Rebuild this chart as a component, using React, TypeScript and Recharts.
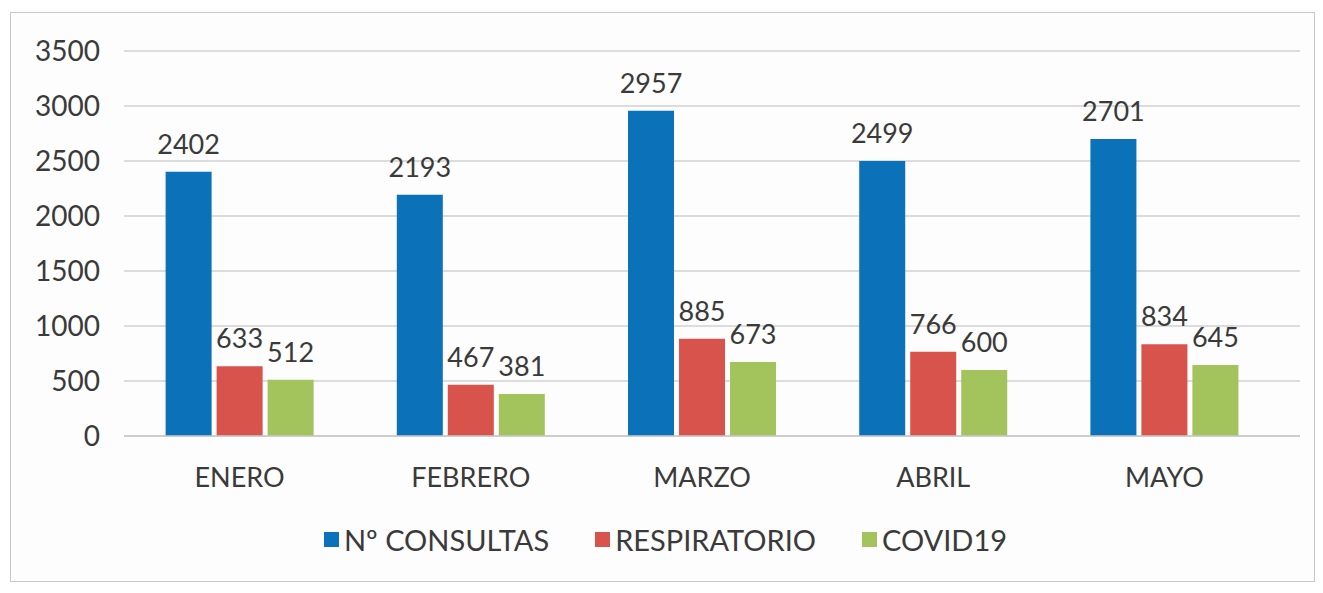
import { Bar, BarChart, CartesianGrid, LabelList, Legend, XAxis, YAxis } from "recharts";

const months = ["ENERO", "FEBRERO", "MARZO", "ABRIL", "MAYO"];
const consultas = [2402, 2193, 2957, 2499, 2701];
const respiratorio = [633, 467, 885, 766, 834];
const covid = [512, 381, 673, 600, 645];
const yTicks = [0, 500, 1000, 1500, 2000, 2500, 3000, 3500];

const series = [
  { key: "consultas", name: "Nº CONSULTAS", color: "#0b72ba" },
  { key: "respiratorio", name: "RESPIRATORIO", color: "#d9534d" },
  { key: "covid", name: "COVID19", color: "#a3c45c" },
];

const data = months.map((m, i) => ({
  month: m,
  consultas: consultas[i],
  respiratorio: respiratorio[i],
  covid: covid[i],
}));

const font = "Lato, 'Noto Sans', sans-serif";
const textColor = "#3a3a3a";

function LegendContent() {
  return (
    <div style={{ display: "flex", justifyContent: "center", gap: 46, fontFamily: font, fontSize: 29, color: textColor, paddingLeft: 20 }}>
      {series.map((s) => (
        <div key={s.key} style={{ display: "flex", alignItems: "center" }}>
          <span style={{ width: 15, height: 15, background: s.color, marginRight: 5, display: "inline-block" }} />
          <span>{s.name}</span>
        </div>
      ))}
    </div>
  );
}

export default function App() {
  return (
    <div
      style={{
        width: 1305,
        height: 570,
        border: "1px solid #c8c8c8",
        background: "#fdfdfd",
        boxSizing: "border-box",
        marginLeft: 2,
        marginTop: 4,
      }}
    >
      <BarChart
        width={1303}
        height={568}
        data={data}
        margin={{ top: 38, right: 14, bottom: 38, left: 0 }}
        barCategoryGap="18%"
        barGap={5}
      >
        <CartesianGrid vertical={false} stroke="#d0d0d0" strokeWidth={1.5} />
        <XAxis
          dataKey="month"
          axisLine={{ stroke: "#c8c8c8", strokeWidth: 1.5 }}
          tickLine={false}
          tickMargin={26}
          height={72}
          padding={{ left: 0, right: 20 }}
          tick={{ fontFamily: font, fontSize: 27, fill: textColor }}
        />
        <YAxis
          domain={[0, 3500]}
          ticks={yTicks}
          axisLine={false}
          tickLine={false}
          width={113}
          tickSize={0}
          tickMargin={24}
          tick={{ fontFamily: font, fontSize: 28, fill: textColor }}
        />
        <Legend
          verticalAlign="bottom"
          wrapperStyle={{ bottom: 24 }}
          content={() => <LegendContent />}
        />
        {series.map((s) => (
          <Bar key={s.key} dataKey={s.key} name={s.name} fill={s.color} isAnimationActive={false}>
            <LabelList
              dataKey={s.key}
              position="top"
              offset={18}
              style={{ fontFamily: font, fontSize: 27, fill: textColor }}
            />
          </Bar>
        ))}
      </BarChart>
    </div>
  );
}
